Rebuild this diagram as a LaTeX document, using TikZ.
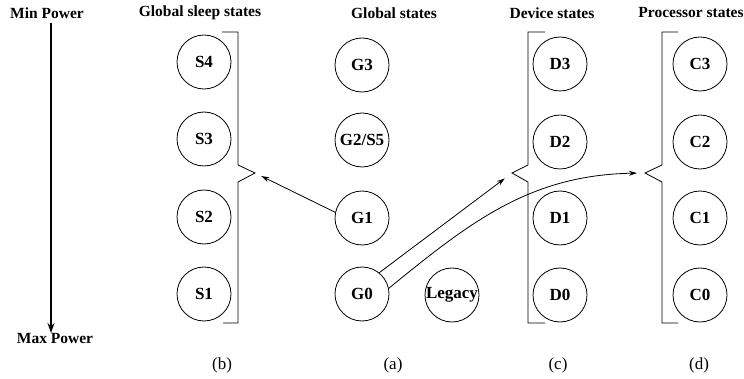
\documentclass[tikz,border=0pt]{standalone}
\usepackage{fontspec}
\setmainfont{Liberation Serif}
\usetikzlibrary{arrows.meta}

\begin{document}
\begin{tikzpicture}[x=1pt,y=-1pt,
  state/.style={circle,draw,line width=0.8pt,minimum size=54pt,inner sep=0pt,
    font=\fontsize{17}{20}\selectfont\bfseries},
  title/.style={font=\fontsize{15.5}{18}\selectfont\bfseries,inner sep=0pt},
  caption/.style={font=\fontsize{17}{20}\selectfont,inner sep=0pt},
  bracket/.style={line width=0.8pt},
  link/.style={line width=0.8pt,-{Stealth[length=8pt,width=5pt,inset=2.5pt]}}]
\useasboundingbox (0,0) rectangle (744,379);

% power scale
\node[title] (minp) at (47,13) {Min Power};
\node[title] (maxp) at (55,339) {Max Power};
\coordinate (ptop) at (51,23);
\coordinate (pbot) at (51,333);
\draw[line width=1.4pt,-{Stealth[length=10pt,width=7pt]}] (ptop) -- (pbot);

% column titles
\node[title] (tb) at (200,13) {Global sleep states};
\node[title] (ta) at (394,13) {Global states};
\node[title] (tc) at (552,13) {Device states};
\node[title] (td) at (691,13) {Processor states};

% global sleep states
\node[state] (s4) at (204,62) {S4};
\node[state] (s3) at (204,139) {S3};
\node[state] (s2) at (204,217) {S2};
\node[state] (s1) at (204,294) {S1};

% global states
\node[state] (g3) at (362,65) {G3};
\node[state] (g2) at (362,140) {G2/S5};
\node[state] (g1) at (362,218) {G1};
\node[state] (g0) at (362,294) {G0};
\node[state] (leg) at (452,295) {Legacy};

% device states
\node[state] (d3) at (560,64) {D3};
\node[state] (d2) at (560,142) {D2};
\node[state] (d1) at (560,218) {D1};
\node[state] (d0) at (560,295) {D0};

% processor states
\node[state] (c3) at (700,64) {C3};
\node[state] (c2) at (700,142) {C2};
\node[state] (c1) at (700,218) {C1};
\node[state] (c0) at (700,295) {C0};

% brackets grouping the columns
\coordinate (stip) at (255,173);
\draw[bracket] (222,32) -- (238,32) -- (238,165) -- (stip) -- (238,182) -- (238,323) -- (223,323);
\coordinate (dtip) at (512,173);
\draw[bracket] (545,32) -- (528,32) -- (528,165) -- (dtip) -- (528,182) -- (528,323) -- (545,323);
\coordinate (ctip) at (645,173);
\draw[bracket] (678,32) -- (662,32) -- (662,165) -- (ctip) -- (662,182) -- (662,323) -- (678,323);

% transitions
\draw[link,shorten >=7pt] (g1.168) -- (stip);
\draw[link,shorten >=9pt] (g0.51) -- (dtip);
\draw[link,shorten >=8pt] (g0.12) .. controls (470,222) and (530,175) .. (ctip);

% captions
\node[caption] (cb) at (222,365) {(b)};
\node[caption] (ca) at (393,365) {(a)};
\node[caption] (cc) at (558,365) {(c)};
\node[caption] (cd) at (699,365) {(d)};
\end{tikzpicture}
\end{document}
